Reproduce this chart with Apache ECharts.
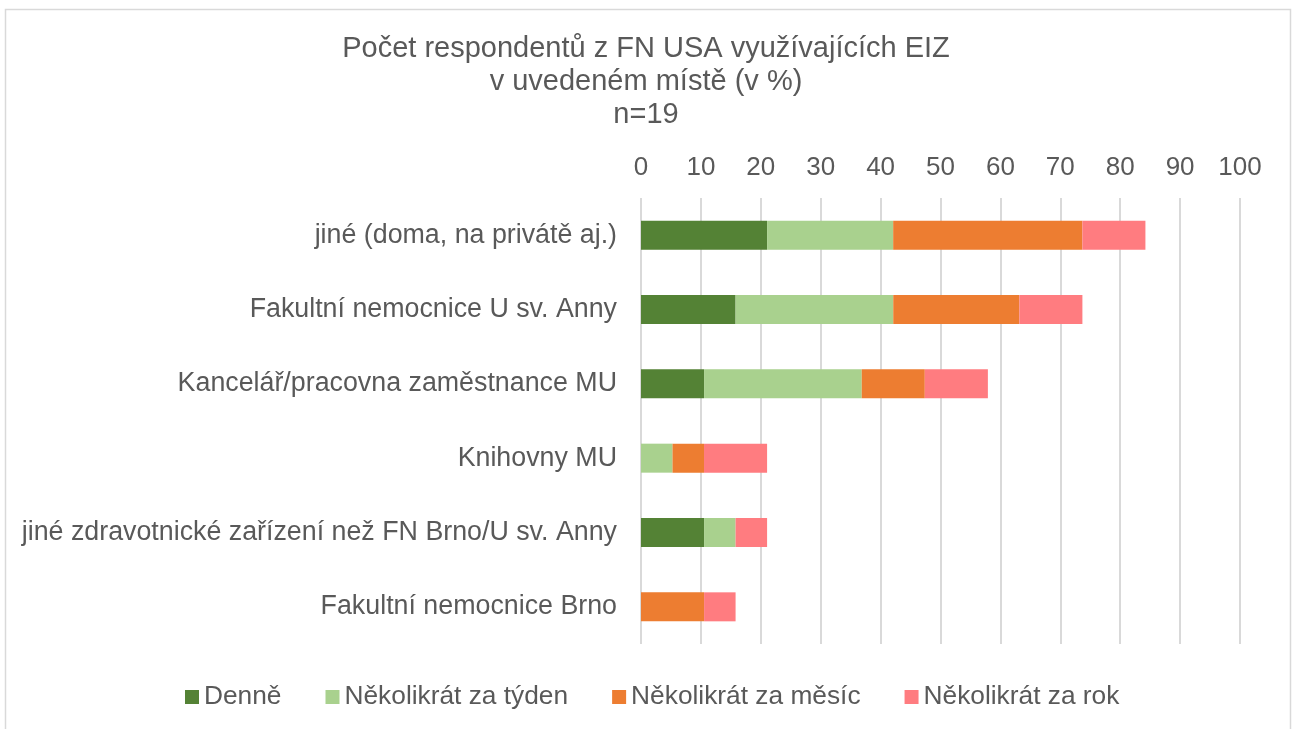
<!DOCTYPE html>
<html>
<head>
<meta charset="utf-8">
<script src="https://cdn.jsdelivr.net/npm/echarts@6/dist/echarts.min.js"></script>
<style>
html,body{margin:0;padding:0;background:#fff;}
#chart{width:1292px;height:729px;}
</style>
</head>
<body>
<div id="chart"></div>
<script>
const categories = [
  "jiné (doma, na privátě aj.)",
  "Fakultní nemocnice U sv. Anny",
  "Kancelář/pracovna zaměstnance MU",
  "Knihovny MU",
  "jiné zdravotnické zařízení než FN Brno/U sv. Anny",
  "Fakultní nemocnice Brno"
];
const seriesNames = ["Denně", "Několikrát za týden", "Několikrát za měsíc", "Několikrát za rok"];
const denne   = [21.05, 15.79, 10.53, 0,    10.53, 0];
const tyden   = [21.05, 26.32, 26.32, 5.26, 5.26,  0];
const mesic   = [31.58, 21.05, 10.53, 5.26, 0,     10.53];
const rok     = [10.53, 10.53, 10.53, 10.53, 5.26, 5.26];
const xTicks  = [0, 10, 20, 30, 40, 50, 60, 70, 80, 90, 100];
const titleText = "Počet respondentů z FN USA využívajících EIZ\nv uvedeném místě (v %)\nn=19";

const colors = ["#548235", "#A9D18E", "#ED7D31", "#FF7C80"];
const values = [denne, tyden, mesic, rok];
const font = "Liberation Sans, Arial, sans-serif";
const textColor = "#595959";

const chart = echarts.init(document.getElementById('chart'), null, {renderer: 'canvas'});
chart.setOption({
  animation: false,
  color: colors,
  textStyle: {fontFamily: font},
  title: {
    text: titleText,
    left: 'center',
    top: 27,
    textStyle: {fontFamily: font, fontSize: 29, fontWeight: 'normal', color: textColor, lineHeight: 33}
  },
  graphic: [{
    type: 'rect',
    shape: {x: 5.5, y: 9.5, width: 1285, height: 800},
    style: {fill: 'none', stroke: '#d9d9d9', lineWidth: 1.5},
    silent: true
  }],
  legend: {
    left: 180,
    top: 679,
    itemWidth: 14,
    itemHeight: 14,
    itemGap: 44,
    icon: 'rect',
    textStyle: {fontFamily: font, fontSize: 26.3, color: textColor},
    data: seriesNames
  },
  grid: {left: 641, right: 52, top: 198, bottom: 85, containLabel: false},
  xAxis: {
    type: 'value',
    position: 'top',
    min: xTicks[0],
    max: xTicks[xTicks.length-1],
    interval: 10,
    axisLine: {show: false},
    axisTick: {show: false},
    axisLabel: {fontFamily: font, fontSize: 26, color: textColor, margin: 17},
    splitLine: {show: true, lineStyle: {color: '#d9d9d9', width: 2}}
  },
  yAxis: {
    type: 'category',
    inverse: true,
    data: categories,
    axisLine: {show: false},
    axisTick: {show: false},
    axisLabel: {fontFamily: font, fontSize: 26.8, color: textColor, margin: 24}
  },
  series: seriesNames.map((n, i) => ({
    name: n,
    type: 'bar',
    stack: 'total',
    barWidth: 29,
    data: values[i],
    itemStyle: {color: colors[i]}
  }))
});
</script>
</body>
</html>
